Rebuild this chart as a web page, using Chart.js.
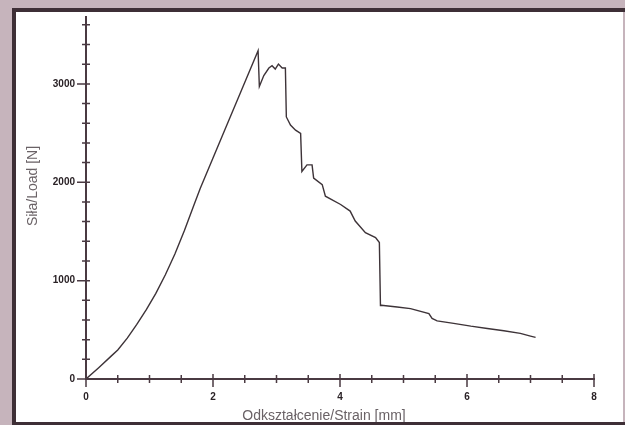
<!DOCTYPE html>
<html>
<head>
<meta charset="utf-8">
<script src="https://cdn.jsdelivr.net/npm/chart.js@4"></script>
<style>
html, body { margin: 0; padding: 0; background: #c6b4bc; }
</style>
</head>
<body>
<canvas id="loadChart" width="625" height="425"></canvas>
<script>
// odkształcenie [mm] / siła [N]
const strain = [0, 0.2, 0.4, 0.5, 0.65, 0.8, 0.95, 1.1, 1.25, 1.4, 1.55, 1.7, 1.8, 2.0, 2.19, 2.45,
    2.71, 2.73, 2.8, 2.88, 2.93, 2.98, 3.03, 3.09, 3.14, 3.155, 3.22, 3.3, 3.38, 3.4, 3.48, 3.56, 3.585,
    3.72, 3.77, 4.01, 4.16, 4.24, 4.4, 4.56, 4.62, 4.637, 4.65, 4.9, 5.11, 5.4, 5.45, 5.53, 5.79, 6.06,
    6.32, 6.58, 6.84, 7.0, 7.08];
const load = [0, 115, 235, 295, 415, 555, 705, 870, 1060, 1270, 1510, 1770, 1940, 2247, 2539, 2938,
    3337, 2974, 3085, 3161, 3185, 3151, 3202, 3161, 3161, 2664, 2581, 2530, 2496, 2110, 2177, 2177, 2042,
    1976, 1858, 1774, 1707, 1606, 1488, 1437, 1387, 748, 749, 732, 716, 665, 615, 591, 565, 537,
    514, 490, 464, 436, 423];

const xTicks = [0, 0.5, 1, 1.5, 2, 2.5, 3, 3.5, 4, 4.5, 5, 5.5, 6, 6.5, 7, 7.5, 8];
const yTicks = [0, 200, 400, 600, 800, 1000, 1200, 1400, 1600, 1800, 2000, 2200, 2400, 2600, 2800, 3000,
    3200, 3400, 3600];
const xLabels = [0, 2, 4, 6, 8];
const yLabels = [0, 1000, 2000, 3000];
const xTitle = 'Odkształcenie/Strain [mm]';
const yTitle = 'Siła/Load [N]';

const axisColor = '#4a3a42';
const tickFont = { family: "'Liberation Sans Narrow', 'Liberation Sans', Arial", size: 10, weight: 'bold' };

// ramka + tło jak na skanie
const framePlugin = {
    id: 'frame',
    beforeDraw(chart) {
        const c = chart.ctx;
        c.save();
        c.fillStyle = '#c6b4bc';
        c.fillRect(0, 0, chart.width, chart.height);
        c.fillStyle = '#ffffff';
        c.fillRect(16, 12, 607, 410);
        c.restore();
    },
    afterDraw(chart) {
        const c = chart.ctx;
        c.save();
        // podpisy osi
        c.fillStyle = '#6a6266';
        c.font = "14px 'Liberation Sans', Arial";
        c.textAlign = 'center';
        c.textBaseline = 'middle';
        c.fillText(xTitle, 324, 416);
        c.translate(33, 186);
        c.rotate(-Math.PI / 2);
        c.fillText(yTitle, 0, 0);
        c.restore();

        c.save();
        c.fillStyle = '#3e2f36';
        c.fillRect(12, 8, 4, 417);
        c.fillRect(12, 8, 613, 4);
        c.fillRect(12, 422, 613, 3);
        c.restore();
    }
};

// kreski podziałki przecinające osie
const crossTicks = {
    id: 'crossTicks',
    afterDraw(chart) {
        const c = chart.ctx;
        const xs = chart.scales.x, ys = chart.scales.y;
        const x0 = xs.getPixelForValue(0), y0 = ys.getPixelForValue(0);
        c.save();
        c.strokeStyle = axisColor;
        c.lineWidth = 1.5;
        c.beginPath();
        xTicks.forEach(v => {
            const px = xs.getPixelForValue(v);
            const major = xLabels.includes(v);
            c.moveTo(px, y0 - (major ? 5 : 4));
            c.lineTo(px, y0 + (major ? 8 : 4));
        });
        yTicks.forEach(v => {
            const py = ys.getPixelForValue(v);
            const major = yLabels.includes(v);
            c.moveTo(x0 - (major ? 9 : 4), py);
            c.lineTo(x0 + 4, py);
        });
        c.stroke();
        c.restore();
    }
};

const ctx = document.getElementById('loadChart').getContext('2d');
const loadChart = new Chart(ctx, {
    type: 'line',
    data: {
        datasets: [{
            data: strain.map((s, i) => ({ x: s, y: load[i] })),
            borderColor: '#3d3338',
            borderWidth: 1.4,
            pointRadius: 0,
            tension: 0,
            fill: false
        }]
    },
    options: {
        responsive: false,
        animation: false,
        layout: { padding: { left: 0, top: 14, right: 31, bottom: 0 } },
        plugins: { legend: { display: false }, tooltip: { enabled: false } },
        scales: {
            x: {
                type: 'linear',
                min: 0,
                max: 8,
                afterBuildTicks: s => { s.ticks = xTicks.map(v => ({ value: v })); },
                afterFit: s => { s.height = 46; },
                grid: { display: false, drawTicks: false },
                border: { display: true, color: axisColor, width: 2 },
                ticks: {
                    autoSkip: false,
                    maxRotation: 0,
                    padding: 12,
                    color: '#2a2226',
                    font: tickFont,
                    callback: v => xLabels.includes(v) ? String(v) : ''
                }
            },
            y: {
                min: 0,
                max: 3680,
                afterBuildTicks: s => { s.ticks = yTicks.map(v => ({ value: v })); },
                afterFit: s => { s.width = 86; },
                grid: { display: false, drawTicks: false },
                border: { display: true, color: axisColor, width: 2 },
                ticks: {
                    autoSkip: false,
                    padding: 11,
                    color: '#2a2226',
                    font: tickFont,
                    callback: v => yLabels.includes(v) ? String(v) : ''
                }
            }
        }
    },
    plugins: [framePlugin, crossTicks]
});
</script>
</body>
</html>
